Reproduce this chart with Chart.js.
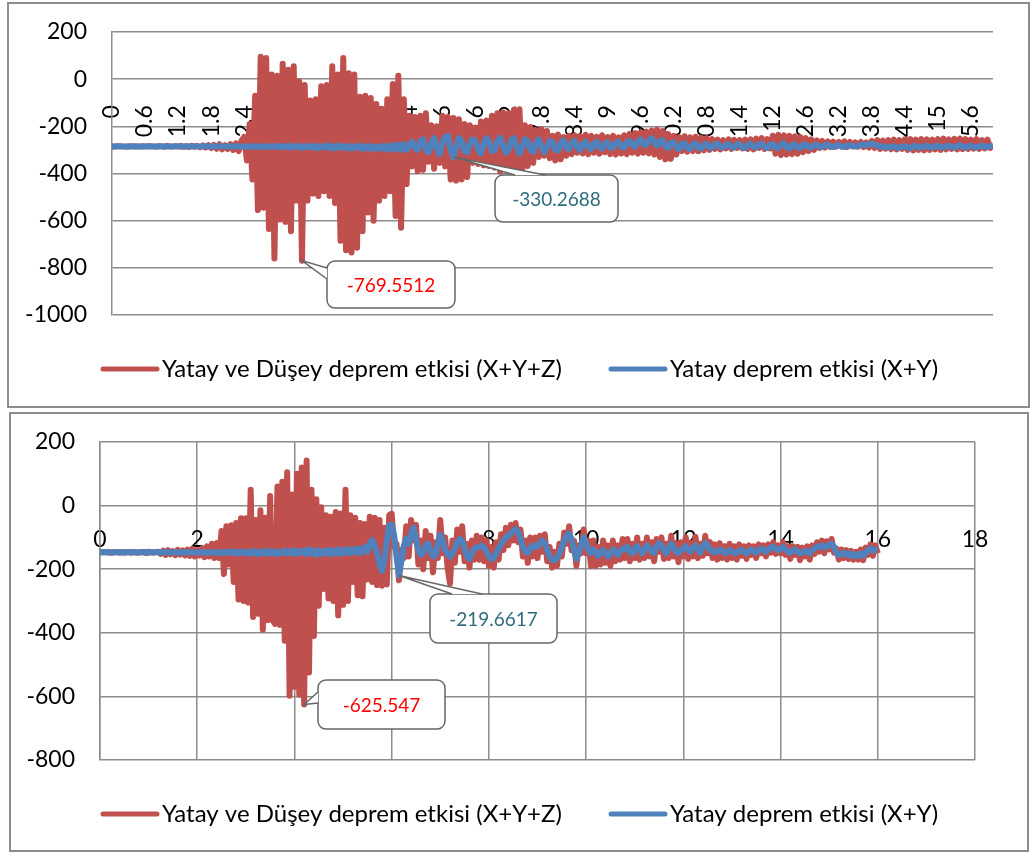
<!DOCTYPE html>
<html>
<head>
<meta charset="utf-8">
<script src="https://cdn.jsdelivr.net/npm/chart.js@4.4.1/dist/chart.umd.min.js"></script>
<style>
  body { margin: 0; background: #fff; width: 1033px; height: 854px; position: relative; overflow: hidden; }
  canvas { position: absolute; left: 0; }
  #topChart { top: 0; }
  #bottomChart { top: 410px; }
  .frame { position: absolute; border: 2px solid #8c8c8c; box-sizing: border-box; }
</style>
</head>
<body>
<div class="frame" style="left:7px;top:2px;width:1023px;height:406px"></div>
<div class="frame" style="left:9px;top:412px;width:1020px;height:440px"></div>
<canvas id="topChart" width="1033" height="410"></canvas>
<canvas id="bottomChart" width="1033" height="444"></canvas>
<script>
// sampling step of the records (s)
const TIME_STEP = 0.05;

const SERIES_LABELS = ['Yatay ve Düşey deprem etkisi (X+Y+Z)', 'Yatay deprem etkisi (X+Y)'];

const TOP_TICKS = [0, 0.6, 1.2, 1.8, 2.4, 3, 3.6, 4.2, 4.8, 5.4, 6, 6.6, 7.2, 7.8, 8.4, 9, 9.6,
    10.2, 10.8, 11.4, 12, 12.6, 13.2, 13.8, 14.4, 15, 15.6];
const BOTTOM_TICKS = [0, 2, 4, 6, 8, 10, 12, 14, 16, 18];

// upper chart, one row = 0.6 s
const topRedValues = [
    -285, -285, -284, -285, -286, -285, -285, -284, -286, -285, -285, -284,
    -285, -286, -284, -285, -286, -284, -285, -287, -283, -285, -286, -284,
    -286, -283, -287, -284, -288, -282, -287, -283, -289, -281, -290, -280,
    -292, -279, -295, -276, -298, -280, -296, -275, -300, -272, -305, -262,
    -245, -345, -190, -425, -70, -555, 95, -545, 90, -635, 20, -760,
    15, -595, 65, -605, 40, -645, 55, -515, -10, -769.5512, -25, -515,
    -90, -485, -85, -495, -30, -475, -25, -495, 55, -525, 20, -685,
    90, -725, 25, -735, 20, -715, -75, -645, -70, -565, -80, -600,
    -105, -515, -125, -495, -85, -475, -20, -580, 15, -630, -85, -445,
    -155, -370, -160, -390, -155, -385, -145, -350, -195, -380, -200, -355,
    -155, -370, -160, -425, -165, -430, -170, -425, -190, -415, -195, -355,
    -205, -360, -180, -365, -175, -368, -155, -375, -145, -392, -140, -365,
    -145, -372, -130, -392, -128, -390, -195, -368, -203, -355, -215, -330,
    -212, -325, -220, -335, -240, -345, -235, -340, -245, -325, -240, -318,
    -238, -312, -242, -315, -236, -318, -240, -312, -244, -316, -238, -310,
    -245, -318, -240, -320, -246, -315, -238, -318, -232, -312, -228, -316,
    -225, -312, -222, -315, -218, -320, -214, -330, -220, -340, -232, -338,
    -240, -320, -245, -305, -242, -308, -246, -305, -244, -306, -248, -302,
    -250, -300, -254, -296, -256, -298, -258, -294, -255, -296, -257, -292,
    -258, -294, -256, -296, -255, -298, -252, -292, -250, -296, -254, -294,
    -240, -316, -236, -322, -238, -320, -240, -318, -242, -316, -245, -310,
    -250, -305, -255, -300, -260, -292, -262, -290, -264, -288, -265, -286,
    -266, -285, -264, -288, -266, -284, -268, -286, -266, -288, -268, -290,
    -262, -292, -258, -296, -260, -295, -258, -297, -256, -298, -258, -296,
    -255, -300, -254, -302, -256, -300, -254, -302, -255, -300, -256, -298,
    -254, -300, -252, -298, -255, -296, -253, -298, -252, -297, -254, -296,
    -256, -295, -254, -296, -258, -294, -256, -292, -280
];

const topBlueValues = [
    -285, -285, -285, -284, -285, -286, -285, -285, -284, -285, -286, -285,
    -285, -284, -285, -286, -285, -285, -284, -285, -286, -285, -285, -284,
    -285, -286, -285, -284, -285, -286, -284, -285, -286, -285, -284, -286,
    -285, -284, -286, -285, -284, -286, -285, -284, -287, -285, -284, -286,
    -285, -287, -284, -288, -283, -287, -285, -289, -283, -288, -284, -287,
    -282, -290, -284, -289, -281, -291, -283, -288, -282, -292, -284, -289,
    -283, -291, -282, -293, -284, -290, -281, -292, -283, -294, -282, -291,
    -284, -293, -283, -295, -285, -292, -282, -296, -284, -294, -283, -297,
    -286, -295, -284, -298, -282, -296, -280, -299, -278, -298, -276, -300,
    -278, -265, -292, -300, -262, -255, -300, -310, -270, -250, -295, -318,
    -268, -245, -240, -300, -330.2688, -290, -250, -262, -305, -310, -272, -255,
    -262, -300, -315, -275, -250, -268, -305, -300, -262, -248, -280, -312,
    -298, -258, -250, -290, -315, -290, -255, -262, -300, -308, -270, -255,
    -285, -310, -290, -262, -268, -300, -302, -270, -260, -290, -296, -268,
    -262, -290, -300, -275, -265, -288, -296, -274, -266, -290, -294, -272,
    -268, -292, -288, -270, -266, -286, -290, -268, -262, -280, -286, -264,
    -255, -276, -280, -258, -250, -270, -282, -262, -258, -285, -292, -270,
    -268, -290, -296, -275, -272, -292, -296, -276, -272, -290, -294, -278,
    -274, -290, -292, -276, -274, -288, -290, -278, -276, -288, -290, -276,
    -275, -290, -292, -278, -274, -286, -290, -276, -274, -288, -292, -278,
    -276, -290, -292, -276, -272, -288, -294, -280, -276, -290, -292, -278,
    -278, -288, -290, -280, -278, -286, -288, -280, -278, -286, -288, -282,
    -280, -286, -288, -282, -280, -285, -286, -282, -278, -280, -278, -276,
    -275, -278, -282, -286, -284, -288, -290, -286, -284, -290, -292, -286,
    -284, -290, -292, -286, -282, -288, -290, -284, -282, -288, -290, -284,
    -282, -288, -290, -284, -282, -288, -290, -284, -280, -286, -290, -284,
    -282, -288, -290, -284, -282, -286, -288, -284, -282
];

// lower chart
const bottomRedValues = [
    -147, -147, -146, -147, -148, -147, -147, -146, -148, -147, -147, -146,
    -147, -148, -146, -147, -148, -146, -147, -149, -145, -147, -148, -146,
    -145, -152, -142, -155, -140, -153, -143, -156, -139, -154, -141, -157,
    -138, -158, -136, -160, -140, -157, -134, -162, -128, -160, -120, -165,
    -118, -165, -80, -215, -65, -185, -62, -240, -55, -295, -40, -300,
    -40, -305, 50, -350, -45, -340, -15, -390, -38, -360, 30, -360,
    -372, 60, -375, 75, -425, 105, -598, 35, -570, 100, -595, 120,
    -625.547, 142, -525, 50, -410, 20, -315, -5, -262, -30, -292, -35,
    -300, -20, -345, -25, -312, 50, -300, -30, -240, -38, -282, -55,
    -285, -58, -232, -35, -240, -38, -250, -45, -252, -70, -248, -30,
    -25, -130, -120, -235, -140, -165, -65, -160, -45, -110, -60, -185,
    -110, -200, -80, -165, -95, -210, -115, -165, -45, -150, -100, -195,
    -245, -110, -180, -75, -145, -65, -175, -120, -195, -110, -170, -95,
    -170, -100, -175, -110, -190, -130, -195, -115, -170, -90, -140, -70,
    -125, -60, -110, -55, -115, -75, -160, -110, -180, -100, -160, -100,
    -165, -95, -145, -90, -175, -130, -195, -145, -190, -120, -160, -85,
    -120, -65, -140, -110, -190, -125, -150, -75, -150, -110, -190, -110,
    -190, -130, -185, -110, -180, -125, -190, -110, -175, -125, -170, -105,
    -165, -105, -175, -120, -165, -100, -170, -120, -165, -100, -160, -115,
    -175, -105, -145, -100, -168, -120, -165, -95, -160, -118, -178, -115,
    -160, -100, -168, -118, -160, -98, -165, -120, -158, -95, -150, -115,
    -165, -122, -170, -118, -165, -128, -170, -120, -165, -128, -170, -122,
    -158, -128, -168, -125, -155, -128, -165, -122, -150, -125, -160, -122,
    -148, -115, -152, -125, -150, -115, -155, -128, -168, -128, -155, -130,
    -172, -132, -160, -128, -170, -125, -152, -115, -145, -110, -150, -112,
    -138, -105, -148, -135, -170, -138, -165, -140, -168, -142, -170, -145,
    -170, -138, -172, -132, -155, -122, -158, -125, -150
];

const bottomBlueValues = [
    -147, -147, -147, -146, -147, -148, -147, -147, -146, -147, -148, -147,
    -147, -146, -147, -148, -147, -147, -146, -147, -148, -147, -147, -146,
    -147, -148, -147, -146, -147, -148, -146, -147, -148, -147, -146, -148,
    -147, -146, -148, -147, -146, -148, -147, -146, -149, -147, -146, -148,
    -147, -149, -145, -150, -146, -148, -144, -150, -145, -151, -144, -149,
    -146, -152, -144, -150, -143, -153, -145, -149, -142, -152, -144, -150,
    -143, -153, -146, -149, -141, -151, -144, -150, -140, -152, -143, -148,
    -141, -153, -138, -150, -142, -155, -140, -152, -143, -150, -139, -153,
    -141, -150, -138, -152, -140, -148, -136, -150, -139, -147, -134, -150,
    -138, -130, -145, -120, -108, -125, -150, -185, -205, -170, -110, -62,
    -60, -92, -160, -219.6617, -175, -125, -105, -120, -88, -70, -105, -140,
    -155, -148, -125, -120, -140, -160, -155, -120, -92, -110, -140, -152,
    -160, -150, -135, -115, -105, -110, -135, -160, -168, -150, -135, -132,
    -130, -126, -132, -145, -160, -168, -165, -150, -135, -122, -110, -100,
    -95, -88, -80, -74, -82, -105, -130, -145, -148, -135, -125, -130,
    -128, -118, -110, -118, -140, -160, -170, -172, -165, -150, -130, -110,
    -95, -88, -105, -140, -168, -150, -120, -100, -118, -140, -150, -138,
    -145, -158, -150, -140, -148, -160, -152, -138, -145, -155, -142, -135,
    -138, -130, -145, -150, -135, -128, -140, -150, -138, -125, -132, -145,
    -148, -130, -118, -125, -140, -150, -135, -120, -130, -145, -150, -140,
    -135, -128, -140, -145, -132, -125, -138, -148, -130, -118, -125, -140,
    -142, -148, -145, -138, -142, -150, -146, -140, -144, -150, -148, -142,
    -140, -146, -150, -143, -138, -145, -148, -140, -135, -140, -145, -138,
    -132, -130, -136, -140, -135, -130, -138, -145, -148, -142, -138, -145,
    -150, -148, -142, -145, -150, -140, -135, -130, -128, -125, -132, -128,
    -124, -120, -130, -150, -155, -152, -148, -155, -150, -158, -152, -160,
    -155, -150, -158, -148, -140, -135, -142, -138, -140
];

const RED = '#C0504D';
const BLUE = '#4F81BD';
const GRID = '#8c8c8c';

Chart.defaults.font.family = 'Lato, "Open Sans", sans-serif';
Chart.defaults.color = '#000';

// Excel-like callout pointing at the lowest point of a dataset
const minCalloutPlugin = {
    id: 'minCallout',
    afterDatasetsDraw: (chart, args, options) => {
        const ctx = chart.ctx;
        (options.boxes || []).forEach(b => {
            const points = chart.data.datasets[b.dataset].data;
            let low = points[0];
            points.forEach(p => { if (p.y < low.y) low = p; });
            const px = chart.scales.x.getPixelForValue(low.x);
            const py = chart.scales.y.getPixelForValue(low.y);

            ctx.save();
            ctx.lineWidth = 1.5;
            ctx.strokeStyle = '#666';
            ctx.fillStyle = '#fff';
            ctx.beginPath();
            ctx.roundRect(b.x, b.y, b.w, b.h, 8);
            ctx.fill();
            ctx.stroke();
            // tail
            ctx.beginPath();
            ctx.moveTo(b.tail[0][0], b.tail[0][1]);
            ctx.lineTo(px, py);
            ctx.lineTo(b.tail[1][0], b.tail[1][1]);
            ctx.fill();
            ctx.stroke();

            ctx.font = '19px Lato, sans-serif';
            ctx.fillStyle = b.color;
            ctx.textAlign = 'center';
            ctx.textBaseline = 'middle';
            ctx.fillText(String(low.y), b.x + b.w / 2, b.y + b.h / 2 + 1);
            ctx.restore();
        });
    }
};

// legend with thick line samples under the plot
const lineLegendPlugin = {
    id: 'lineLegend',
    afterDraw: (chart, args, options) => {
        const ctx = chart.ctx;
        ctx.save();
        ctx.font = '24px Lato, sans-serif';
        ctx.textBaseline = 'middle';
        ctx.textAlign = 'left';
        chart.data.datasets.forEach((ds, i) => {
            const x = options.x[i];
            ctx.strokeStyle = ds.borderColor;
            ctx.lineWidth = 5;
            ctx.lineCap = 'round';
            ctx.beginPath();
            ctx.moveTo(x, options.y);
            ctx.lineTo(x + 54, options.y);
            ctx.stroke();
            ctx.fillStyle = '#000';
            ctx.fillText(ds.label, x + 59, options.y);
        });
        ctx.restore();
    }
};

const toPoints = values => values.map((v, i) => ({ x: i * TIME_STEP, y: v }));

const buildDatasets = (redValues, blueValues) => [
    {
        label: SERIES_LABELS[0],
        data: toPoints(redValues),
        borderColor: RED,
        backgroundColor: RED,
        borderWidth: 6,
        pointRadius: 0,
        borderJoinStyle: 'round',
        tension: 0,
        order: 2
    },
    {
        label: SERIES_LABELS[1],
        data: toPoints(blueValues),
        borderColor: BLUE,
        backgroundColor: BLUE,
        borderWidth: 6,
        pointRadius: 0,
        borderJoinStyle: 'round',
        tension: 0,
        order: 1
    }
];

// fixed width for the value axis, and no extra room for the end labels
const fixValueAxis = width => axis => {
    axis.width = width;
    axis.paddingTop = 0;
    axis.paddingBottom = 0;
};

new Chart(document.getElementById('topChart'), {
    type: 'line',
    data: { datasets: buildDatasets(topRedValues, topBlueValues) },
    plugins: [minCalloutPlugin, lineLegendPlugin],
    options: {
        responsive: false,
        animation: false,
        devicePixelRatio: 1,
        layout: { padding: { left: 0, right: 40, top: 32, bottom: 95 } },
        plugins: {
            legend: { display: false },
            tooltip: { enabled: false },
            minCallout: {
                boxes: [
                    { dataset: 0, x: 327, y: 261, w: 128, h: 47, tail: [[327, 268], [327, 279]], color: '#FF0000' },
                    { dataset: 1, x: 495, y: 175, w: 123, h: 47, tail: [[515, 175], [545, 175]], color: '#2E6B7B' }
                ]
            },
            lineLegend: { x: [103, 611], y: 369 }
        },
        scales: {
            x: {
                type: 'linear',
                min: 0,
                max: 16,
                position: { y: 0 },
                grid: { display: false },
                border: { display: false },
                afterBuildTicks: axis => { axis.ticks = TOP_TICKS.map(v => ({ value: v })); },
                ticks: {
                    autoSkip: false,
                    minRotation: 90,
                    maxRotation: 90,
                    padding: 18,
                    font: { size: 23 },
                    callback: v => String(v)
                }
            },
            y: {
                min: -1000,
                max: 200,
                afterFit: fixValueAxis(112),
                grid: { color: GRID, lineWidth: 1.5, drawTicks: false },
                border: { color: GRID, width: 1.5 },
                ticks: { stepSize: 200, padding: 25, font: { size: 23 }, callback: v => String(v) }
            }
        }
    }
});

new Chart(document.getElementById('bottomChart'), {
    type: 'line',
    data: { datasets: buildDatasets(bottomRedValues, bottomBlueValues) },
    plugins: [minCalloutPlugin, lineLegendPlugin],
    options: {
        responsive: false,
        animation: false,
        devicePixelRatio: 1,
        layout: { padding: { left: 0, right: 58, top: 32, bottom: 94 } },
        plugins: {
            legend: { display: false },
            tooltip: { enabled: false },
            minCallout: {
                boxes: [
                    { dataset: 0, x: 318, y: 270, w: 127, h: 49, tail: [[318, 282], [318, 293]], color: '#FF0000' },
                    { dataset: 1, x: 430, y: 184, w: 127, h: 49, tail: [[452, 184], [482, 184]], color: '#2E6B7B' }
                ]
            },
            lineLegend: { x: [103, 611], y: 404 }
        },
        scales: {
            x: {
                type: 'linear',
                min: 0,
                max: 18,
                position: { y: 0 },
                grid: { color: GRID, lineWidth: 1.5, drawTicks: false },
                border: { display: false },
                afterBuildTicks: axis => { axis.ticks = BOTTOM_TICKS.map(v => ({ value: v })); },
                ticks: { autoSkip: false, maxRotation: 0, padding: 20, font: { size: 23 } }
            },
            y: {
                min: -800,
                max: 200,
                afterFit: fixValueAxis(100),
                grid: { color: GRID, lineWidth: 1.5, drawTicks: false },
                border: { color: GRID, width: 1.5 },
                ticks: { stepSize: 200, padding: 25, font: { size: 23 }, callback: v => String(v) }
            }
        }
    }
});
</script>
</body>
</html>
